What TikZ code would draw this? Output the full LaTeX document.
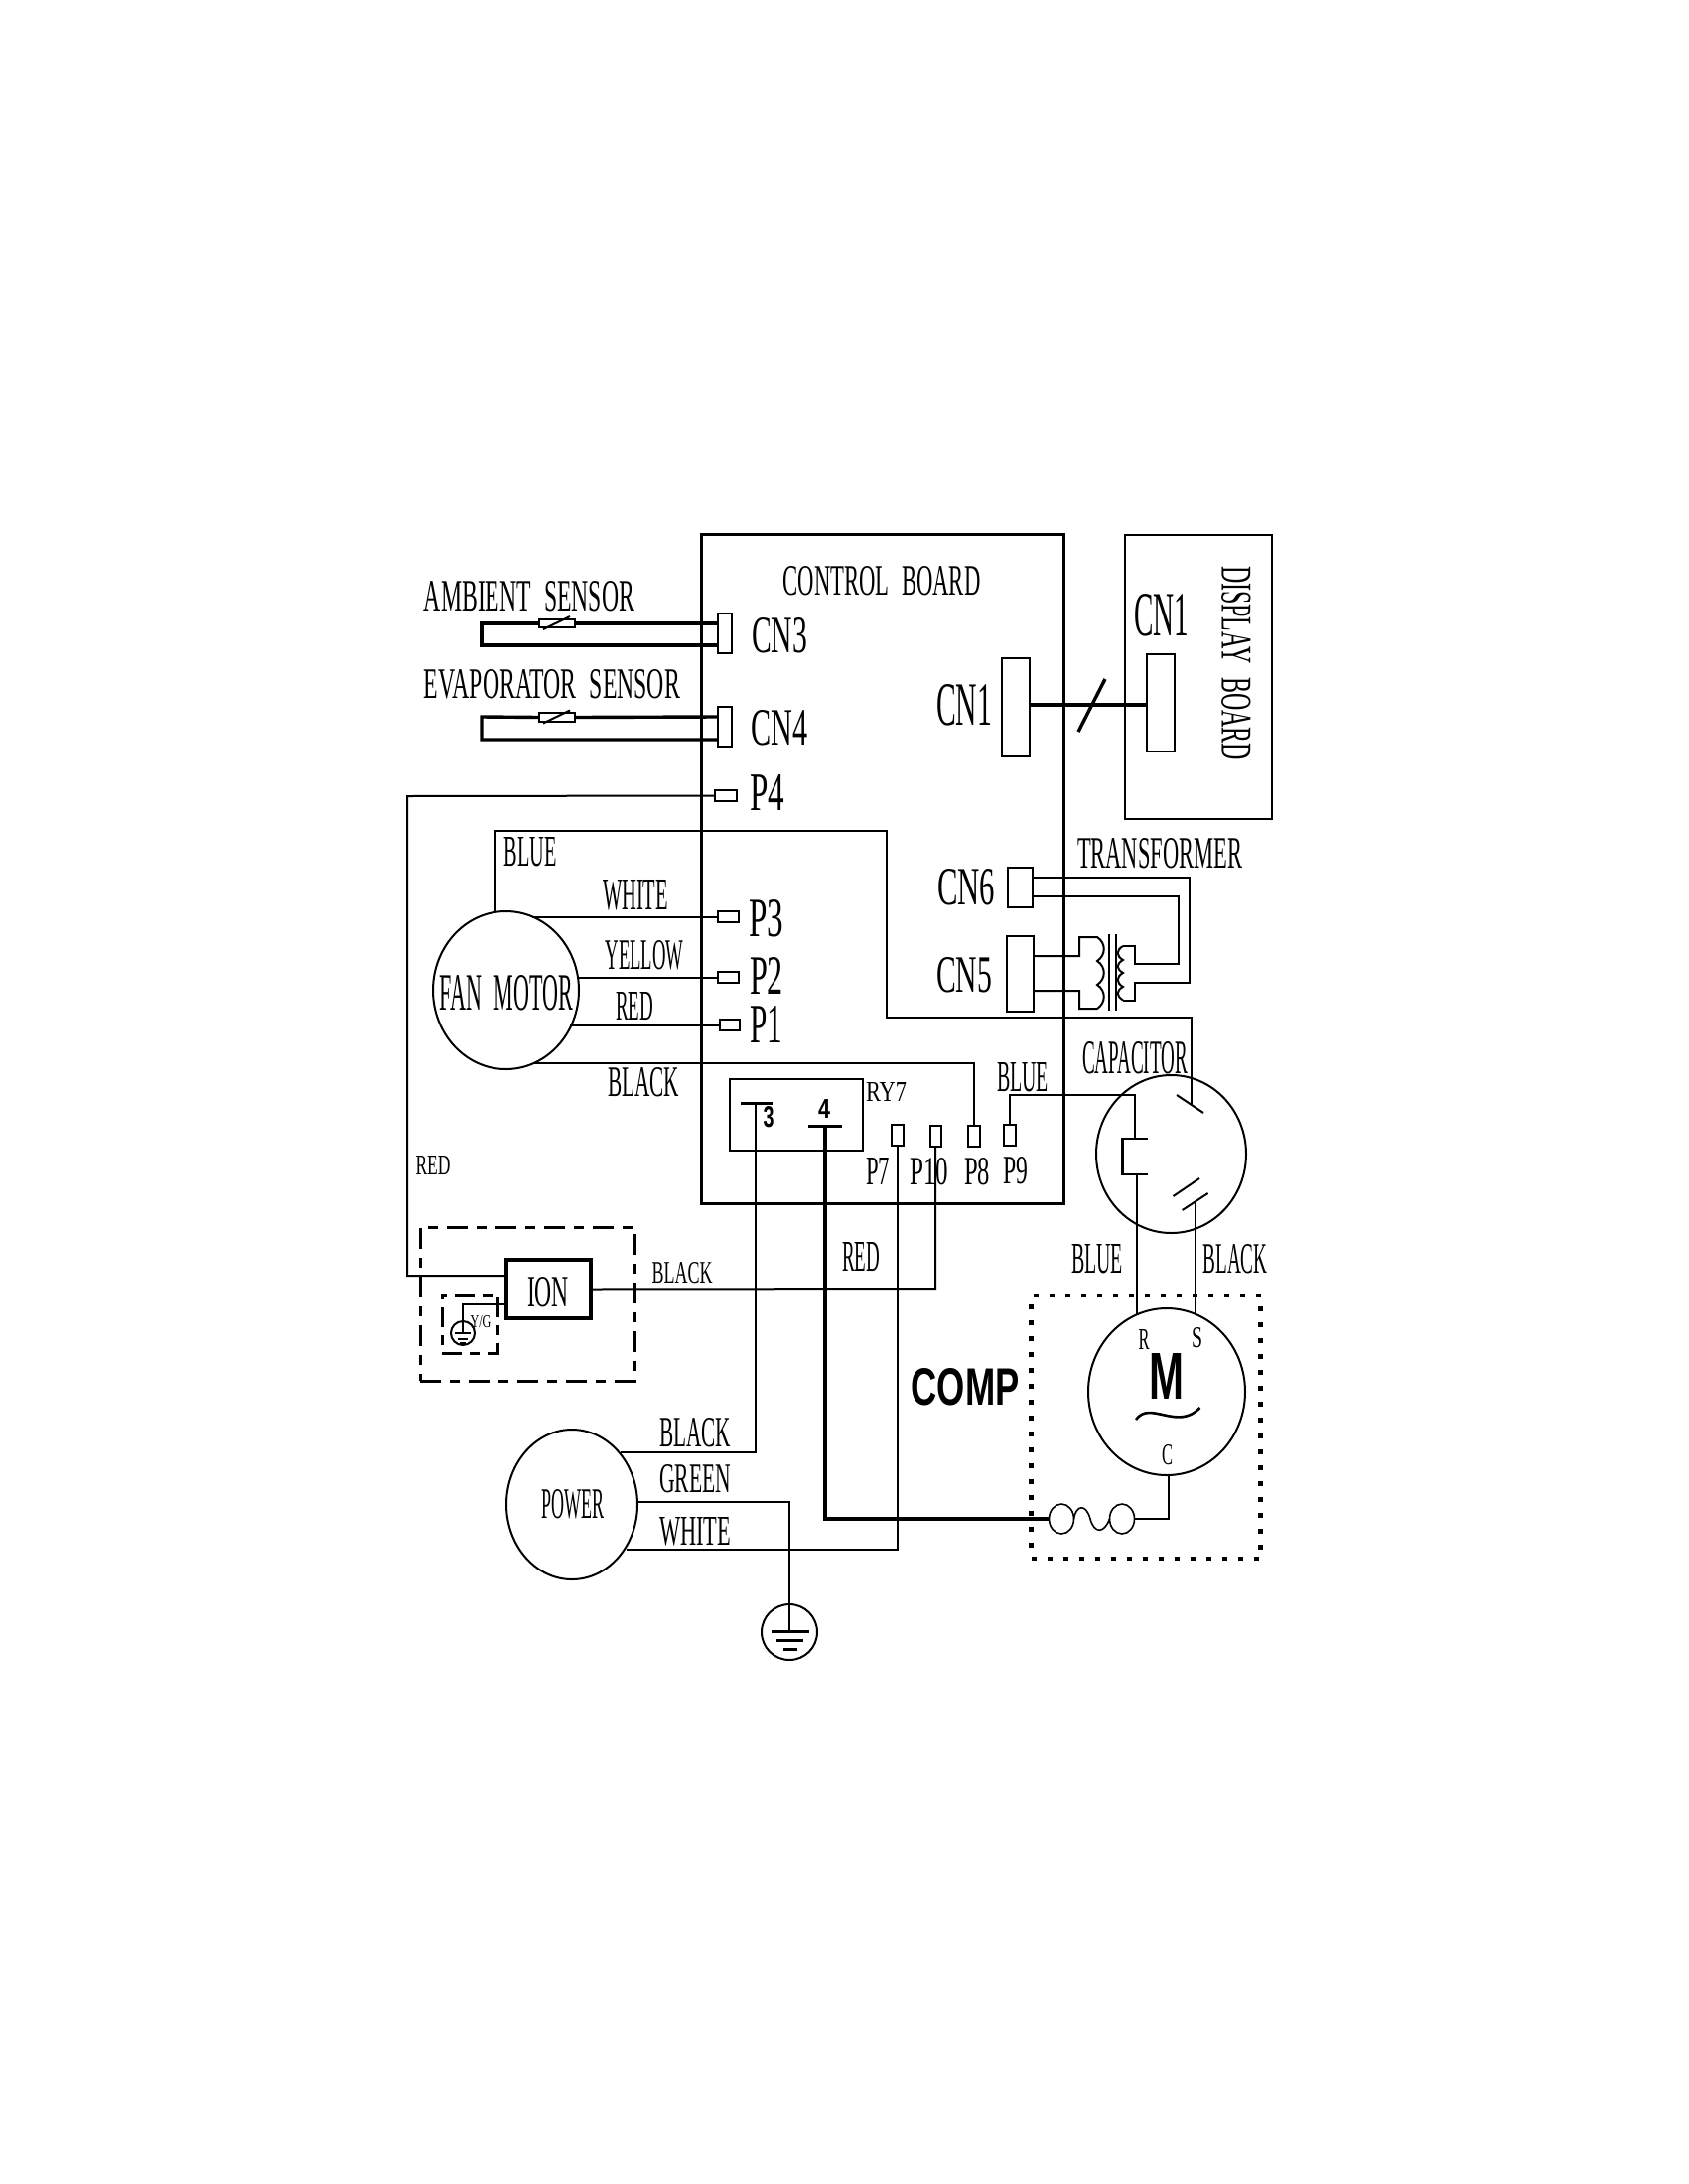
\documentclass[tikz,border=0pt]{standalone}
\usepackage{graphicx}
\usepackage{fontspec}
\setmainfont{Liberation Serif}
\newfontfamily\sansbold{Liberation Sans}
\usetikzlibrary{shapes.geometric}
\newcommand\lab[6]{\node[lbl] (#1) at (#2,#3) {\resizebox{#4pt}{#5pt}{#6}};}
\newcommand\sbf[1]{{\sansbold\bfseries #1}}
\newcommand\gap{\hspace{0.55em}}
\tikzset{
  lbl/.style={inner sep=0pt,outer sep=0pt},
  wire/.style={draw=black,line width=2pt,line join=miter},
  thin wire/.style={draw=black,line width=1.6pt},
  heavy/.style={draw=black,line width=4pt},
  sensor/.style={draw=black,line width=3.4pt},
  boxn/.style={draw=black,rectangle,line width=2pt,inner sep=0pt,outer sep=0pt},
  board/.style={boxn,line width=3pt},
  oval/.style={draw=black,ellipse,line width=2pt,inner sep=0pt,outer sep=0pt},
  dashbox/.style={boxn,line width=3pt,dash pattern=on 21pt off 9pt on 10pt off 9pt},
  dashin/.style={boxn,line width=3pt,dash pattern=on 20pt off 8pt on 10pt off 8pt},
  dotbox/.style={boxn,line width=4.5pt,dash pattern=on 5pt off 11pt},
}
\newcommand\bx[5]{\node[boxn,minimum width=#4pt,minimum height=#5pt] (#1) at (#2,#3) {};}
\begin{document}
\begin{tikzpicture}[x=1pt,y=-1pt]
\useasboundingbox[fill=white] (0,0) rectangle (1700,2200);

% boards
\node[board,minimum width=365pt,minimum height=674pt] (ctrl) at (888.5,875) {};
\node[boxn,minimum width=148pt,minimum height=286pt] (disp) at (1207,682) {};
\lab{tctrl}{888}{585}{199}{29}{CONTROL\gap BOARD}
\node[lbl,rotate=-90] (tdisp) at (1245,668) {\resizebox{196pt}{29pt}{DISPLAY\gap BOARD}};

% connectors
\bx{cnthree}{730}{638}{14}{40}
\bx{cnfour}{730}{732}{14}{40}
\bx{cnone}{1023}{712.5}{28}{99}
\bx{cnoned}{1169}{708}{28}{98}
\bx{cnsix}{1027.5}{894}{25}{40}
\bx{cnfive}{1027.5}{981}{27}{76}
\bx{pfour}{731}{801.5}{22}{11}
\bx{pthree}{733.5}{923.5}{21}{11}
\bx{ptwo}{733.5}{984.5}{21}{11}
\bx{pone}{735}{1032.5}{20}{11}
\bx{pseven}{904}{1143.5}{12}{21}
\bx{pten}{942}{1144.5}{11}{21}
\bx{peight}{980.5}{1144.5}{12}{21}
\bx{pnine}{1016.5}{1143.5}{12}{21}
\bx{relay}{802}{1123}{134}{72}

% labels, board
\lab{tcnthree}{785}{640}{56}{35}{CN3}
\lab{tcnfour}{785}{733}{57}{35}{CN4}
\lab{tpfour}{773}{798}{35}{36}{P4}
\lab{tpthree}{772}{925}{35}{37}{P3}
\lab{tptwo}{772}{983}{34}{37}{P2}
\lab{tpone}{772}{1032}{33}{37}{P1}
\lab{tcnone}{971}{710}{56}{41}{CN1}
\lab{tcnoned}{1170}{620}{55}{42}{CN1}
\lab{tcnsix}{973}{894}{58}{36}{CN6}
\lab{tcnfive}{971}{982}{56}{35}{CN5}
\lab{try}{892.5}{1100}{41}{19}{RY7}
\lab{tpseven}{884}{1180}{24}{27}{P7}
\lab{tpten}{936}{1180}{39}{27}{P10}
\lab{tpeight}{984}{1180}{26}{27}{P8}
\lab{tpnine}{1022.5}{1179}{25}{27}{P9}
\lab{tthree}{774}{1125.5}{11}{21}{\sbf{3}}
\lab{tfour}{830}{1116.5}{12}{19}{\sbf{4}}

% sensors
\lab{tamb}{533}{601}{212}{30}{AMBIENT\gap SENSOR}
\lab{tevap}{556}{689}{258}{29}{EVAPORATOR\gap SENSOR}
\node[boxn,minimum width=36pt,minimum height=8pt] (thone) at (561,628) {};
\node[boxn,minimum width=36pt,minimum height=9pt] (thtwo) at (561,722.5) {};
\coordinate (aone) at (485,628);
\coordinate (atwo) at (485,650);
\coordinate (eone) at (485,722);
\coordinate (etwo) at (485,745);
\draw[sensor] (thone.east) -- (aone -| cnthree.west);
\draw[sensor] (thone.west) -- (aone) -- (atwo) -- (atwo -| cnthree.west);
\draw[wire] (thone) ++(-14,6) -- ++(27,-13);
\draw[sensor] (thtwo.east) -- (eone -| cnfour.west);
\draw[sensor] (thtwo.west) -- (eone) -- (etwo) -- (etwo -| cnfour.west);
\draw[wire] (thtwo) ++(-14,6) -- ++(27,-13);

% display link
\draw[sensor] (cnone.east |- 0,710) -- (cnoned.west |- 0,710);
\coordinate (slasha) at (1086,737);
\coordinate (slashb) at (1113,684);
\draw[sensor] (slasha) -- (slashb);

% fan motor
\node[oval,minimum width=147pt,minimum height=159pt] (fan) at (509.5,997.5) {};
\lab{tfan}{510}{1000}{134}{35}{FAN\gap MOTOR}
\lab{tblue}{534}{858}{53}{29}{BLUE}
\lab{twhite}{640}{902}{66}{30}{WHITE}
\lab{tyellow}{649}{962}{79}{29}{YELLOW}
\lab{tred}{639}{1014}{38}{28}{RED}
\lab{tblack}{648}{1090}{72}{29}{BLACK}
\draw[wire] (fan.70 |- pthree.west) -- (pthree.west);
\draw[wire] (fan.east |- ptwo.west) -- (ptwo.west);
\draw[wire,line width=3pt] (fan.-30 |- pone.west) -- (pone.west);
\coordinate (blk) at (980.5,1071);
\draw[wire] (fan.-69 |- blk) -- (blk) -- (peight.north);
\coordinate (bluea) at (499,837);
\coordinate (blueb) at (893,837);
\coordinate (bluec) at (893,1025);
\coordinate (blued) at (1199.5,1025);

% capacitor
\node[oval,minimum width=151pt,minimum height=159pt] (cap) at (1179.5,1162.5) {};
\lab{tcap}{1143}{1066}{106}{32}{CAPACITOR}
\lab{tbluenine}{1030}{1085}{52}{29}{BLUE}
\coordinate (plateA) at (1199.5,1112);
\draw[wire] (fan.north -| bluea) -- (bluea) -- (blueb) -- (bluec) -- (blued) -- (plateA);
\draw[wire] (1185,1103) -- (1212,1121);
\coordinate (capa) at (1143,1103);
\coordinate (capb) at (1143,1147);
\draw[wire] (pnine.north) -- (pnine.north |- capa) -- (capa) -- (capb);
\draw[wire,line width=2.6pt] (1156,1147) -- (1130.5,1147) -- (1130.5,1183) -- (1156,1183);
\draw[wire] (1181.5,1205) -- (1208,1187);
\draw[wire] (1190.6,1219) -- (1216.6,1202);

% compressor
\node[dotbox,minimum width=231pt,minimum height=265pt] (comp) at (1154,1437.5) {};
\node[oval,minimum width=158pt,minimum height=168pt] (motor) at (1175,1402) {};
\lab{tcomp}{972}{1397}{109}{37}{\sbf{COMP}}
\lab{tm}{1174.5}{1386}{35}{46}{\sbf{M}}
\lab{tr}{1152}{1349}{11}{20}{R}
\lab{ts}{1205.5}{1348}{11}{20}{S}
\lab{tc}{1175.5}{1466}{11}{20}{C}
\lab{tbluelow}{1105}{1268}{52}{29}{BLUE}
\lab{tblacklow}{1244}{1268}{65}{29}{BLACK}
\draw[wire,line width=2.6pt] (1144,1430) .. controls (1158,1410) and (1186,1442) .. (1208.5,1418);
\draw[wire] (1144.7,1183) -- (1144.7,1325);
\draw[wire] (1204.4,1210) -- (1204.4,1325);
\node[oval,line width=1.6pt,minimum width=25pt,minimum height=30pt] (fusea) at (1069,1530) {};
\node[oval,line width=1.6pt,minimum width=25pt,minimum height=30pt] (fuseb) at (1130,1530) {};
\draw[thin wire] (fusea.east) .. controls (1084,1515) and (1094,1515) .. (1098,1530) .. controls (1102,1545) and (1112,1545) .. (fuseb.west);
\coordinate (cterm) at (1176.7,1530);
\draw[wire] (fuseb.east) -- (cterm) -- (cterm |- motor.south);

% relay terminals and wires
\coordinate (tthreea) at (746,1111);
\coordinate (tthreeb) at (778,1111);
\coordinate (tfoura) at (814,1134);
\coordinate (tfourb) at (848,1134);
\draw[wire,line width=3pt] (tthreea) -- (tthreeb);
\draw[wire,line width=3pt] (tfoura) -- (tfourb);

% power
\node[oval,minimum width=132pt,minimum height=151pt] (power) at (576,1515.5) {};
\lab{tpower}{577}{1515}{63}{29}{POWER}
\lab{tblackp}{700}{1443}{72}{29}{BLACK}
\lab{tgreen}{700}{1490}{72}{28}{GREEN}
\lab{twhitep}{700}{1543}{72}{28}{WHITE}
\coordinate (blkp) at (760.5,1463);
\draw[wire] (760.5,1111) -- (blkp) -- (625,1463);
\coordinate (whp) at (904,1561);
\draw[wire] (pseven.south) -- (whp) -- (630.6,1561);
\coordinate (fourc) at (831,1530);
\draw[heavy] (831,1134) -- (fourc) -- (fusea.west);

% ground
\node[oval,minimum width=56pt,minimum height=56pt] (gnd) at (795,1644) {};
\coordinate (grn) at (794.5,1513);
\draw[wire] (power.east |- grn) -- (grn) -- (794.5,1643);
\draw[wire,line width=3pt] (776.5,1643) -- (814.5,1643);
\draw[wire,line width=3pt] (782,1652) -- (808.5,1652);
\draw[wire,line width=3pt] (788.5,1661) -- (802.5,1661);

% ion
\node[dashbox,minimum width=216pt,minimum height=155pt] (ionbox) at (531,1313.5) {};
\node[dashin,minimum width=56pt,minimum height=59pt] (gndbox) at (473,1333.5) {};
\node[boxn,line width=4pt,minimum width=85pt,minimum height=59pt] (ion) at (552.5,1298.5) {};
\lab{tion}{552}{1302}{42}{30}{ION}
\lab{tblackion}{687}{1282}{61}{21}{BLACK}
\lab{tredion}{867}{1266}{38}{29}{RED}
\lab{tredleft}{436}{1174}{35}{19}{RED}
\lab{tyg}{484}{1332}{21}{12}{Y/G}
\node[oval,minimum width=24pt,minimum height=24pt] (gndsm) at (466,1343) {};
\coordinate (rcorner) at (410,802);
\coordinate (ionin) at (510,1285);
\draw[wire] (pfour.west) -- (rcorner) -- (rcorner |- ionin) -- (ionin);
\coordinate (ygc) at (466,1314);
\draw[wire] (ion.west |- ygc) -- (ygc) -- (466,1343);
\draw[wire] (458,1343) -- (474,1343);
\draw[wire] (461,1349) -- (471,1349);
\draw[wire,line width=1.4pt] (463,1353) -- (469,1353);
\coordinate (redc) at (942,1298);
\draw[wire] (ion.east) -- (redc) -- (pten.south);

% transformer
\lab{ttrans}{1168}{860}{166}{30}{TRANSFORMER}
\coordinate (ta) at (1198,884);
\coordinate (tb) at (1198,990);
\coordinate (tcc) at (1143,990);
\coordinate (td) at (1143,1007.5);
\coordinate (tda) at (1131,1007.5);
\coordinate (te) at (1187,903);
\coordinate (tf) at (1187,971);
\coordinate (tg) at (1143,971);
\coordinate (thh) at (1143,953);
\coordinate (thi) at (1131,953);
\draw[wire] (cnsix.east |- ta) -- (ta) -- (tb) -- (tcc) -- (td) -- (tda);
\draw[wire] (cnsix.east |- te) -- (te) -- (tf) -- (tg) -- (thh) -- (thi);
\draw[wire] (thi) .. controls (1124,957) and (1124,963) .. (1131,967)
  .. controls (1124,971) and (1124,976) .. (1131,980)
  .. controls (1124,984) and (1124,990) .. (1131,994)
  .. controls (1124,998) and (1124,1003) .. (tda);
\draw[wire] (1117,941) -- (1117,1018);
\draw[wire] (1124,941) -- (1124,1018);
\coordinate (pa) at (1087,963);
\coordinate (pb) at (1087,944);
\coordinate (pc) at (1105,944);
\coordinate (pd) at (1105,1016);
\coordinate (pe) at (1087,1016);
\coordinate (pf) at (1087,998);
\draw[wire] (cnfive.east |- pa) -- (pa) -- (pb) -- (pc)
  .. controls (1114,950) and (1114,962) .. (1105,968)
  .. controls (1114,974) and (1114,986) .. (1105,992)
  .. controls (1114,998) and (1114,1010) .. (pd) -- (pe) -- (pf) -- (cnfive.east |- pf);
\end{tikzpicture}
\end{document}
